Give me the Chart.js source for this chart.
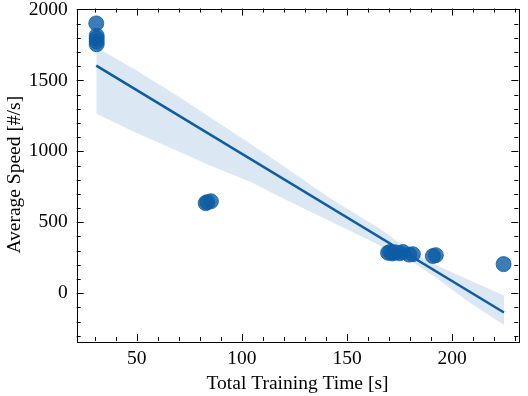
<!DOCTYPE html>
<html>
<head>
<meta charset="utf-8">
<script src="https://cdn.jsdelivr.net/npm/chart.js@4"></script>
<style>
  html, body { margin: 0; padding: 0; background: #fff; }
  #wrap { width: 528px; height: 396px; }
</style>
</head>
<body>
<div id="wrap"><canvas id="speedChart" width="528" height="396"></canvas></div>
<script>
// measured runs: training time [s] vs average speed [#/s]
const trainTime = [30.8, 31.0, 31.0, 31.0, 31.0, 82.8, 83.6, 85.3,
                   169.5, 170.5, 171.5, 173.0, 175.0, 176.6, 179.5, 181.3, 190.8, 192.2, 224.4];
const avgSpeed  = [1902, 1815, 1795, 1775, 1755, 635, 642, 648,
                   285, 290, 280, 288, 282, 290, 272, 275, 262, 268, 205];

// fitted regression line
const fitX = [30.8, 224.6];
const fitY = [1604, -136];

// confidence band edges
const bandX     = [30.8, 50, 70.6, 84, 104, 118, 142, 166, 180, 192, 208, 224.6];
const bandUpper = [1733, 1570, 1379, 1250, 1053, 914, 669, 450, 300, 200, 93, -16];
const bandLower = [1265, 1130, 995, 905, 786, 680, 507, 335, 230, 112, -63, -225];

// axis ticks
const xTicks = [50, 100, 150, 200];
const yTicks = [0, 500, 1000, 1500, 2000];
const xMinorStep = 10;
const yMinorStep = 100;

const blue = '#0C5DA5';
const serif = "'Liberation Serif', 'DejaVu Serif', serif";
const fontSize = 19.5;

const toPoints = (xs, ys) => xs.map((x, i) => ({ x: x, y: ys[i] }));

// inward ticks on all four sides plus the frame
const frameTicks = {
    id: 'frameTicks',
    afterDraw(chart) {
        const { ctx, chartArea: a, scales } = chart;
        const xs = scales.x, ys = scales.y;
        ctx.save();
        ctx.strokeStyle = '#000';
        ctx.lineWidth = 1;
        ctx.beginPath();
        const xStart = Math.ceil(xs.min / xMinorStep) * xMinorStep;
        for (let v = xStart; v <= xs.max; v += xMinorStep) {
            const px = Math.round(xs.getPixelForValue(v)) + 0.5;
            const len = xTicks.includes(v) ? 7 : 4;
            ctx.moveTo(px, a.bottom); ctx.lineTo(px, a.bottom - len);
            ctx.moveTo(px, a.top); ctx.lineTo(px, a.top + len);
        }
        const yStart = Math.ceil(ys.min / yMinorStep) * yMinorStep;
        for (let v = yStart; v <= ys.max; v += yMinorStep) {
            const py = Math.round(ys.getPixelForValue(v)) + 0.5;
            const len = yTicks.includes(v) ? 7 : 4;
            ctx.moveTo(a.left, py); ctx.lineTo(a.left + len, py);
            ctx.moveTo(a.right, py); ctx.lineTo(a.right - len, py);
        }
        ctx.stroke();
        ctx.strokeRect(Math.round(a.left) + 0.5, Math.round(a.top) + 0.5,
                       Math.round(a.right - a.left), Math.round(a.bottom - a.top));
        ctx.restore();
    }
};

new Chart(document.getElementById('speedChart'), {
    type: 'scatter',
    data: {
        datasets: [
            {
                label: 'band upper',
                data: toPoints(bandX, bandUpper),
                showLine: true,
                borderWidth: 0,
                pointRadius: 0,
                backgroundColor: 'rgba(12,93,165,0.15)',
                fill: '+1',
                order: 4
            },
            {
                label: 'band lower',
                data: toPoints(bandX, bandLower),
                showLine: true,
                borderWidth: 0,
                pointRadius: 0,
                fill: false,
                order: 5
            },
            {
                label: 'runs',
                data: toPoints(trainTime, avgSpeed),
                pointRadius: 7.5,
                backgroundColor: 'rgba(12,93,165,0.8)',
                borderColor: 'rgba(12,93,165,0.8)',
                borderWidth: 1,
                order: 2
            },
            {
                label: 'fit',
                data: toPoints(fitX, fitY),
                showLine: true,
                borderColor: blue,
                borderWidth: 2.6,
                pointRadius: 0,
                order: 1
            }
        ]
    },
    options: {
        responsive: false,
        animation: false,
        layout: { padding: { top: 5, right: 9.7, bottom: 0, left: 0 } },
        plugins: { legend: { display: false }, tooltip: { enabled: false } },
        scales: {
            x: {
                type: 'linear',
                min: 21.5,
                max: 231.4,
                afterBuildTicks: s => { s.ticks = xTicks.map(v => ({ value: v })); },
                afterFit: s => { s.height = 55; s.paddingLeft = 0; s.paddingRight = 0; },
                grid: { display: false, drawTicks: false },
                border: { display: false },
                ticks: {
                    color: '#000', padding: 6,
                    font: { family: serif, size: fontSize },
                    callback: v => String(v)
                },
                title: {
                    display: true,
                    text: 'Total Training Time [s]',
                    color: '#000',
                    padding: { top: 0, bottom: 0 },
                    font: { family: serif, size: fontSize }
                }
            },
            y: {
                type: 'linear',
                min: -337,
                max: 2007,
                afterBuildTicks: s => { s.ticks = yTicks.map(v => ({ value: v })); },
                afterFit: s => { s.width = 76.7; s.paddingTop = 0; s.paddingBottom = 0; },
                grid: { display: false, drawTicks: false },
                border: { display: false },
                ticks: {
                    color: '#000', padding: 9,
                    font: { family: serif, size: fontSize },
                    callback: v => String(v)
                },
                title: {
                    display: true,
                    text: 'Average Speed [#/s]',
                    color: '#000',
                    padding: { top: 3, bottom: 0 },
                    font: { family: serif, size: fontSize }
                }
            }
        }
    },
    plugins: [frameTicks]
});
</script>
</body>
</html>
